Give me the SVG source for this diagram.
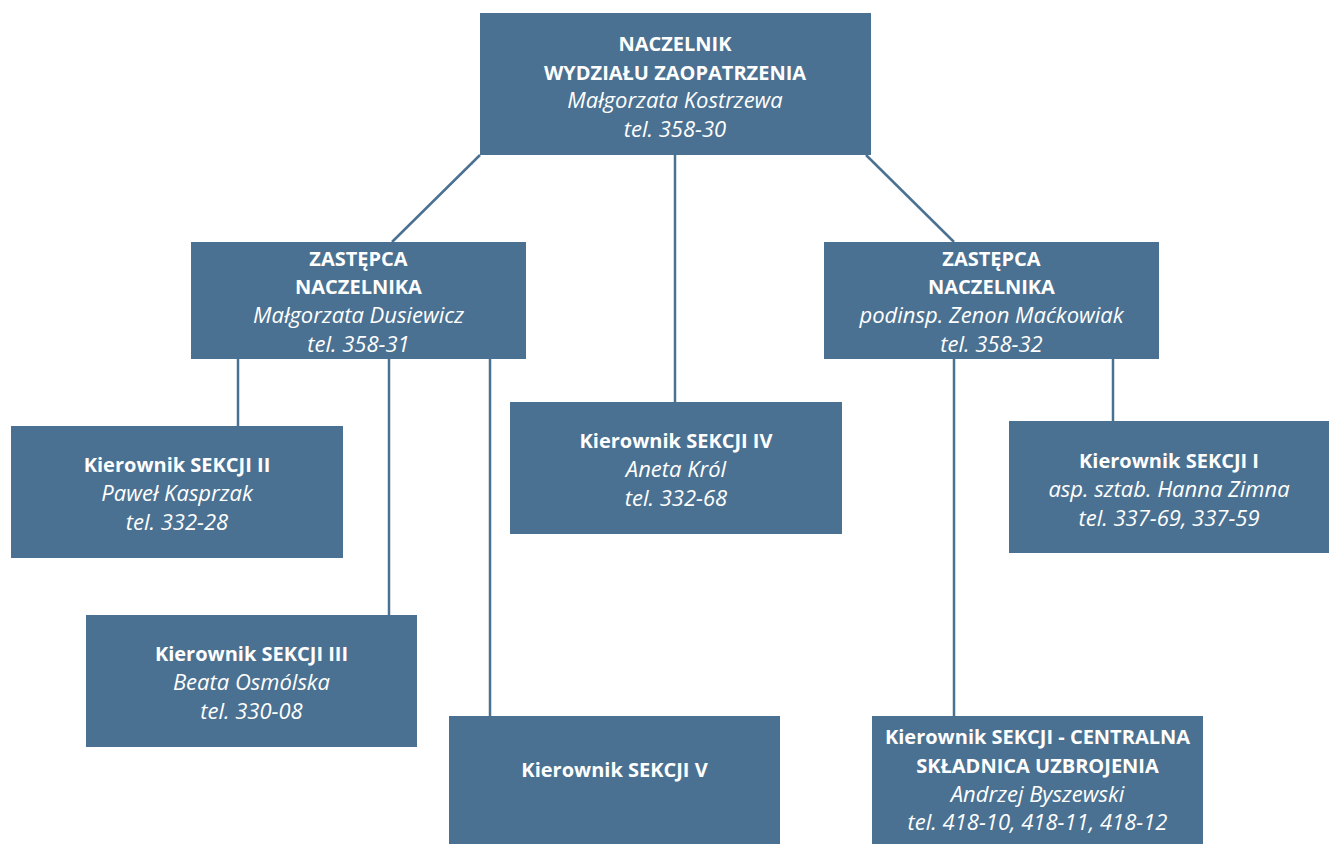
<svg xmlns="http://www.w3.org/2000/svg" width="1329" height="844" viewBox="0 0 1329 844">
<style>
.box{fill:#4a7191}
.c{stroke:#4a7191;stroke-width:2.5;fill:none}
text{font-family:"Open Sans","Liberation Sans",sans-serif;fill:#ffffff;text-anchor:middle}
.b{font-weight:bold;font-size:20px}
.i{font-style:italic;font-size:22px}
</style>
<rect width="1329" height="844" fill="#ffffff"/>
<g id="connectors">
<line class="c" x1="480" y1="155" x2="392" y2="242"/>
<line class="c" x1="675" y1="155" x2="675" y2="402"/>
<line class="c" x1="866" y1="155" x2="954" y2="242"/>
<line class="c" x1="238" y1="359" x2="238" y2="426"/>
<line class="c" x1="389" y1="359" x2="389" y2="615"/>
<line class="c" x1="490" y1="359" x2="490" y2="716"/>
<line class="c" x1="954" y1="359" x2="954" y2="716"/>
<line class="c" x1="1113" y1="359" x2="1113" y2="421"/>
</g>
<g id="naczelnik">
<rect class="box" x="480" y="13" width="391" height="142"/>
<text class="b" x="675" y="51">NACZELNIK</text>
<text class="b" x="675" y="80">WYDZIAŁU ZAOPATRZENIA</text>
<text class="i" x="675" y="108">Małgorzata Kostrzewa</text>
<text class="i" x="675" y="137">tel. 358-30</text>
</g>
<g id="zastepca1">
<rect class="box" x="191" y="242" width="335" height="117"/>
<text class="b" x="358.5" y="266">ZASTĘPCA</text>
<text class="b" x="358.5" y="294">NACZELNIKA</text>
<text class="i" x="358.5" y="323">Małgorzata Dusiewicz</text>
<text class="i" x="358.5" y="352">tel. 358-31</text>
</g>
<g id="zastepca2">
<rect class="box" x="824" y="242" width="335" height="117"/>
<text class="b" x="991.5" y="266">ZASTĘPCA</text>
<text class="b" x="991.5" y="294">NACZELNIKA</text>
<text class="i" x="991.5" y="323">podinsp. Zenon Maćkowiak</text>
<text class="i" x="991.5" y="352">tel. 358-32</text>
</g>
<g id="sekcja2">
<rect class="box" x="11" y="426" width="332" height="132"/>
<text class="b" x="177" y="472">Kierownik SEKCJI II</text>
<text class="i" x="177" y="501">Paweł Kasprzak</text>
<text class="i" x="177" y="530">tel. 332-28</text>
</g>
<g id="sekcja4">
<rect class="box" x="510" y="402" width="332" height="132"/>
<text class="b" x="676" y="448">Kierownik SEKCJI IV</text>
<text class="i" x="676" y="477">Aneta Król</text>
<text class="i" x="676" y="506">tel. 332-68</text>
</g>
<g id="sekcja1">
<rect class="box" x="1009" y="421" width="320" height="132"/>
<text class="b" x="1169" y="468">Kierownik SEKCJI I</text>
<text class="i" x="1169" y="497">asp. sztab. Hanna Zimna</text>
<text class="i" x="1169" y="526">tel. 337-69, 337-59</text>
</g>
<g id="sekcja3">
<rect class="box" x="86" y="615" width="331" height="132"/>
<text class="b" x="251.5" y="661">Kierownik SEKCJI III</text>
<text class="i" x="251.5" y="690">Beata Osmólska</text>
<text class="i" x="251.5" y="719">tel. 330-08</text>
</g>
<g id="sekcja5">
<rect class="box" x="449" y="716" width="331" height="128"/>
<text class="b" x="614.5" y="777">Kierownik SEKCJI V</text>
</g>
<g id="centralna">
<rect class="box" x="872" y="716" width="331" height="128"/>
<text class="b" x="1037.5" y="744">Kierownik SEKCJI - CENTRALNA</text>
<text class="b" x="1037.5" y="773">SKŁADNICA UZBROJENIA</text>
<text class="i" x="1037.5" y="802">Andrzej Byszewski</text>
<text class="i" x="1037.5" y="830">tel. 418-10, 418-11, 418-12</text>
</g>
</svg>
